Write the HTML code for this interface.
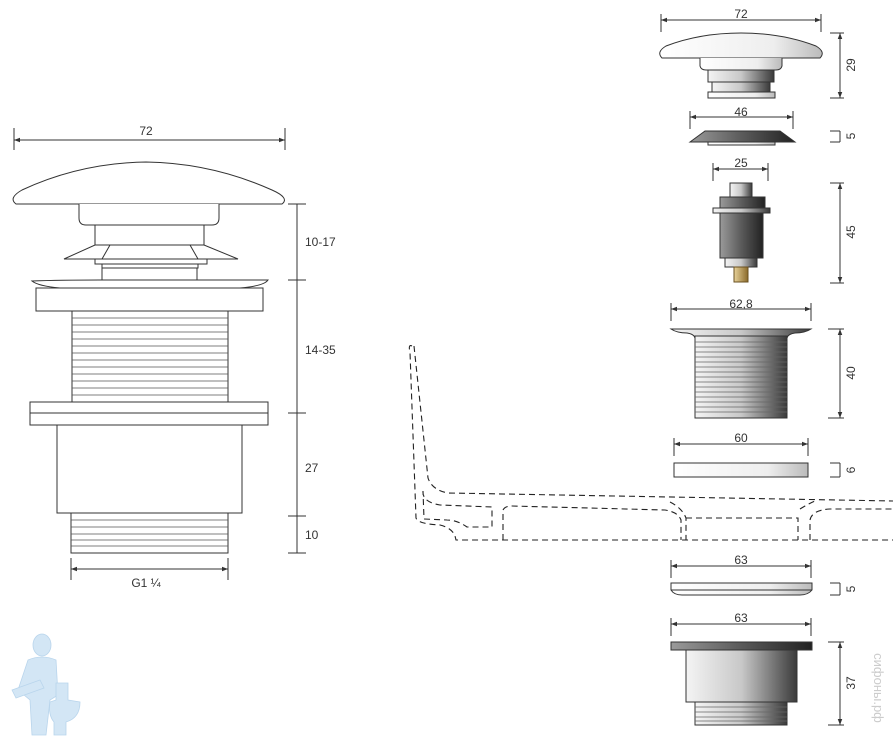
<!DOCTYPE html>
<html><head><meta charset="utf-8"><style>
html,body{margin:0;padding:0;background:#fff;}
svg{display:block;}
text{font-family:"Liberation Sans",sans-serif;font-size:12px;fill:#333;}
</style></head><body>
<svg width="893" height="746" viewBox="0 0 893 746" xmlns="http://www.w3.org/2000/svg">
<defs>
<linearGradient id="met" x1="0" x2="1" y1="0" y2="0">
<stop offset="0" stop-color="#f4f4f4"/><stop offset="0.5" stop-color="#c8c8c8"/><stop offset="1" stop-color="#3a3a3a"/></linearGradient>
<linearGradient id="dark" x1="0" x2="1">
<stop offset="0" stop-color="#9a9a9a"/><stop offset="0.5" stop-color="#5a5a5a"/><stop offset="1" stop-color="#222"/></linearGradient>
<linearGradient id="light" x1="0" x2="1">
<stop offset="0" stop-color="#fff"/><stop offset="0.7" stop-color="#eee"/><stop offset="1" stop-color="#bbb"/></linearGradient>
<linearGradient id="brass" x1="0" x2="1"><stop offset="0" stop-color="#e8d29a"/><stop offset="1" stop-color="#8a6a2a"/></linearGradient>
<marker id="ar" viewBox="0 0 8 6" refX="8" refY="3" markerWidth="6" markerHeight="5" orient="auto-start-reverse"><path d="M0,0 L8,3 L0,6 z" fill="#333"/></marker>
</defs>

<g stroke="#333" stroke-width="1" fill="#fff">
<!-- LEFT assembled -->
<line x1="14" y1="140" x2="285" y2="140" marker-start="url(#ar)" marker-end="url(#ar)"/>
<line x1="14" y1="128" x2="14" y2="150"/><line x1="285" y1="128" x2="285" y2="150"/>
<path d="M16,204 Q8,198 22,190 Q80,163 146,162 Q212,163 272,190 Q290,198 282,204 Z"/>
<path d="M79,204 L79,218 Q79,225 86,225 L212,225 Q219,225 219,218 L219,204"/>
<rect x="95" y="225" width="109" height="20"/>
<path d="M64,259 L95,245 L204,245 L238,259 Z"/>
<line x1="110" y1="245" x2="102" y2="259"/><line x1="190" y1="245" x2="198" y2="259"/>
<rect x="95" y="259" width="112" height="5"/>
<rect x="102" y="264" width="96" height="4"/>
<rect x="102" y="268" width="95" height="12"/>
<path d="M32,281 Q60,280 100,280 L268,280 Q264,286 240,288 L60,288 Q38,286 32,281 Z"/>
<rect x="36" y="288" width="227" height="23"/>
<rect x="72" y="311" width="156" height="91"/>
<g stroke="#555" stroke-width="0.8">
<line x1="72" y1="318" x2="228" y2="318"/><line x1="72" y1="325" x2="228" y2="325"/><line x1="72" y1="332" x2="228" y2="332"/><line x1="72" y1="339" x2="228" y2="339"/><line x1="72" y1="346" x2="228" y2="346"/><line x1="72" y1="353" x2="228" y2="353"/><line x1="72" y1="360" x2="228" y2="360"/><line x1="72" y1="367" x2="228" y2="367"/><line x1="72" y1="374" x2="228" y2="374"/><line x1="72" y1="381" x2="228" y2="381"/><line x1="72" y1="388" x2="228" y2="388"/><line x1="72" y1="395" x2="228" y2="395"/>
</g>
<rect x="30" y="402" width="238" height="11"/>
<rect x="30" y="413" width="238" height="12"/>
<rect x="57" y="425" width="185" height="88"/>
<rect x="71" y="513" width="157" height="40"/>
<g stroke="#555" stroke-width="0.8">
<line x1="71" y1="520" x2="228" y2="520"/><line x1="71" y1="527" x2="228" y2="527"/><line x1="71" y1="534" x2="228" y2="534"/><line x1="71" y1="540" x2="228" y2="540"/><line x1="71" y1="546" x2="228" y2="546"/>
</g>
<line x1="71" y1="569" x2="228" y2="569" marker-start="url(#ar)" marker-end="url(#ar)"/>
<line x1="71" y1="558" x2="71" y2="580"/><line x1="228" y1="558" x2="228" y2="580"/>
<line x1="297" y1="204" x2="297" y2="553"/>
<line x1="288" y1="204" x2="306" y2="204"/><line x1="288" y1="280" x2="306" y2="280"/><line x1="288" y1="413" x2="306" y2="413"/><line x1="288" y1="516" x2="306" y2="516"/><line x1="288" y1="553" x2="306" y2="553"/>

<!-- RIGHT exploded -->
<line x1="661" y1="20" x2="821" y2="20" marker-start="url(#ar)" marker-end="url(#ar)"/>
<line x1="661" y1="14" x2="661" y2="32"/><line x1="821" y1="14" x2="821" y2="32"/>
<path d="M662,58 Q656,52 666,46 Q700,33 741,33 Q782,33 816,46 Q826,52 820,58 Z" fill="url(#light)"/>
<path d="M700,58 L700,66 Q701,70 706,70 L776,70 Q781,70 782,66 L782,58" fill="url(#light)"/>
<rect x="708" y="70" width="66" height="12" fill="url(#met)"/>
<rect x="712" y="82" width="58" height="11" fill="url(#met)"/>
<rect x="708" y="92" width="67" height="6" fill="url(#light)"/>
<line x1="840" y1="33" x2="840" y2="98" marker-start="url(#ar)" marker-end="url(#ar)"/>
<line x1="830" y1="33" x2="844" y2="33"/><line x1="830" y1="98" x2="844" y2="98"/>

<line x1="690" y1="117" x2="793" y2="117" marker-start="url(#ar)" marker-end="url(#ar)"/>
<line x1="690" y1="111" x2="690" y2="129"/><line x1="793" y1="111" x2="793" y2="129"/>
<path d="M690,142 L705,131 L780,131 L795,142 Z" fill="url(#dark)"/>
<rect x="708" y="142" width="67" height="3" fill="url(#light)"/>
<line x1="840" y1="131" x2="840" y2="142"/><line x1="830" y1="131" x2="840" y2="131"/><line x1="830" y1="142" x2="840" y2="142"/>

<line x1="713" y1="169" x2="768" y2="169" marker-start="url(#ar)" marker-end="url(#ar)"/>
<line x1="713" y1="163" x2="713" y2="181"/><line x1="768" y1="163" x2="768" y2="181"/>
<rect x="730" y="183" width="22" height="15" fill="url(#met)"/>
<rect x="720" y="197" width="45" height="11" fill="url(#dark)"/>
<rect x="713" y="208" width="57" height="5" fill="url(#met)"/>
<rect x="720" y="213" width="43" height="45" fill="url(#dark)"/>
<rect x="725" y="258" width="32" height="9" fill="url(#met)"/>
<rect x="734" y="267" width="14" height="15" fill="url(#brass)" stroke="#6a5020"/>
<line x1="840" y1="183" x2="840" y2="283" marker-start="url(#ar)" marker-end="url(#ar)"/>
<line x1="830" y1="183" x2="844" y2="183"/><line x1="830" y1="283" x2="844" y2="283"/>

<line x1="671" y1="309" x2="811" y2="309" marker-start="url(#ar)" marker-end="url(#ar)"/>
<line x1="671" y1="303" x2="671" y2="321"/><line x1="811" y1="303" x2="811" y2="321"/>
<path d="M671,329 L811,329 Q805,333 795,333 Q788,334 787,338 L695,338 Q694,334 687,333 Q677,333 671,329 Z" fill="url(#met)"/>
<rect x="695" y="336" width="92" height="82" fill="url(#met)"/>
<g stroke="#666" stroke-width="0.7">
<line x1="695" y1="342" x2="787" y2="342"/><line x1="695" y1="347" x2="787" y2="347"/><line x1="695" y1="352" x2="787" y2="352"/><line x1="695" y1="357" x2="787" y2="357"/><line x1="695" y1="362" x2="787" y2="362"/><line x1="695" y1="367" x2="787" y2="367"/><line x1="695" y1="372" x2="787" y2="372"/><line x1="695" y1="377" x2="787" y2="377"/><line x1="695" y1="382" x2="787" y2="382"/><line x1="695" y1="387" x2="787" y2="387"/><line x1="695" y1="392" x2="787" y2="392"/><line x1="695" y1="397" x2="787" y2="397"/><line x1="695" y1="402" x2="787" y2="402"/><line x1="695" y1="407" x2="787" y2="407"/><line x1="695" y1="412" x2="787" y2="412"/>
</g>
<line x1="840" y1="329" x2="840" y2="418" marker-start="url(#ar)" marker-end="url(#ar)"/>
<line x1="828" y1="329" x2="844" y2="329"/><line x1="828" y1="418" x2="844" y2="418"/>

<line x1="674" y1="444" x2="808" y2="444" marker-start="url(#ar)" marker-end="url(#ar)"/>
<line x1="674" y1="438" x2="674" y2="456"/><line x1="808" y1="438" x2="808" y2="456"/>
<rect x="674" y="463" width="134" height="14" fill="url(#light)"/>
<line x1="840" y1="463" x2="840" y2="477"/><line x1="830" y1="463" x2="840" y2="463"/><line x1="830" y1="477" x2="840" y2="477"/>

<g fill="none" stroke="#222" stroke-dasharray="6,4" stroke-width="1.1">
<path d="M412,346 Q408,344 410,352 L416,518 Q418,524 440,525 Q452,528 455,536 L456,540 L893,540"/>
<path d="M414,346 L428,478 Q432,490 448,493 L893,501"/>
<path d="M423,491 Q422,502 440,505 L492,507 L492,527 L467,527 Q457,520 447,520 L424,519 Z"/>
<path d="M503,540 L503,510 Q505,506 512,506 L665,510 Q678,512 681,520 L681,540"/>
<path d="M670,502 Q682,508 686,518 L686,540 M686,518 L798,518 L798,540"/>
<path d="M810,540 L810,520 Q812,510 830,509 L893,509 M800,509 Q808,504 815,501"/>
</g>

<line x1="671" y1="566" x2="811" y2="566" marker-start="url(#ar)" marker-end="url(#ar)"/>
<line x1="671" y1="560" x2="671" y2="578"/><line x1="811" y1="560" x2="811" y2="578"/>
<path d="M671,583 L812,583 L812,590 Q808,595 800,595 L682,595 Q674,595 671,590 Z" fill="url(#light)"/>
<line x1="671" y1="590" x2="812" y2="590"/>
<line x1="840" y1="583" x2="840" y2="595"/><line x1="830" y1="583" x2="840" y2="583"/><line x1="830" y1="595" x2="840" y2="595"/>

<line x1="671" y1="624" x2="811" y2="624" marker-start="url(#ar)" marker-end="url(#ar)"/>
<line x1="671" y1="618" x2="671" y2="636"/><line x1="811" y1="618" x2="811" y2="636"/>
<rect x="671" y="642" width="141" height="8" fill="url(#dark)"/>
<rect x="686" y="650" width="111" height="52" fill="url(#met)"/>
<rect x="695" y="702" width="92" height="23" fill="url(#met)"/>
<g stroke="#666" stroke-width="0.7">
<line x1="695" y1="707" x2="787" y2="707"/><line x1="695" y1="712" x2="787" y2="712"/><line x1="695" y1="717" x2="787" y2="717"/><line x1="695" y1="721" x2="787" y2="721"/>
</g>
<line x1="840" y1="642" x2="840" y2="725" marker-start="url(#ar)" marker-end="url(#ar)"/>
<line x1="828" y1="642" x2="844" y2="642"/><line x1="828" y1="725" x2="844" y2="725"/>
</g>

<!-- logo -->
<g fill="#d3e6f5" stroke="#b9d5ec" stroke-width="0.8">
<ellipse cx="42" cy="645" rx="9" ry="11"/>
<path d="M28,660 Q42,654 56,660 L58,695 L50,700 L46,735 L32,735 L30,700 L18,690 Z"/>
<path d="M12,690 L40,680 L44,688 L16,698 Z"/>
<path d="M56,683 L68,683 L68,700 L80,702 Q80,718 66,722 L66,735 L54,735 L54,722 Q48,715 50,702 L56,700 Z"/>
</g>

<!-- labels -->
<g>
<text x="146" y="135" text-anchor="middle">72</text>
<text x="305" y="246">10-17</text>
<text x="305" y="354">14-35</text>
<text x="305" y="472">27</text>
<text x="305" y="539">10</text>
<text x="146" y="587" text-anchor="middle">G1 ¼</text>
<text x="741" y="18" text-anchor="middle">72</text>
<text x="741" y="116" text-anchor="middle">46</text>
<text x="741" y="167" text-anchor="middle">25</text>
<text x="741" y="308" text-anchor="middle">62,8</text>
<text x="741" y="442" text-anchor="middle">60</text>
<text x="741" y="564" text-anchor="middle">63</text>
<text x="741" y="622" text-anchor="middle">63</text>
<text transform="translate(855,65) rotate(-90)" text-anchor="middle">29</text>
<text transform="translate(855,136) rotate(-90)" text-anchor="middle">5</text>
<text transform="translate(855,232) rotate(-90)" text-anchor="middle">45</text>
<text transform="translate(855,373) rotate(-90)" text-anchor="middle">40</text>
<text transform="translate(855,470) rotate(-90)" text-anchor="middle">6</text>
<text transform="translate(855,589) rotate(-90)" text-anchor="middle">5</text>
<text transform="translate(855,683) rotate(-90)" text-anchor="middle">37</text>
<text transform="translate(874,688) rotate(90)" text-anchor="middle" style="fill:#ccc;font-size:13px">сифоны.рф</text>
</g>
</svg>
</body></html>
